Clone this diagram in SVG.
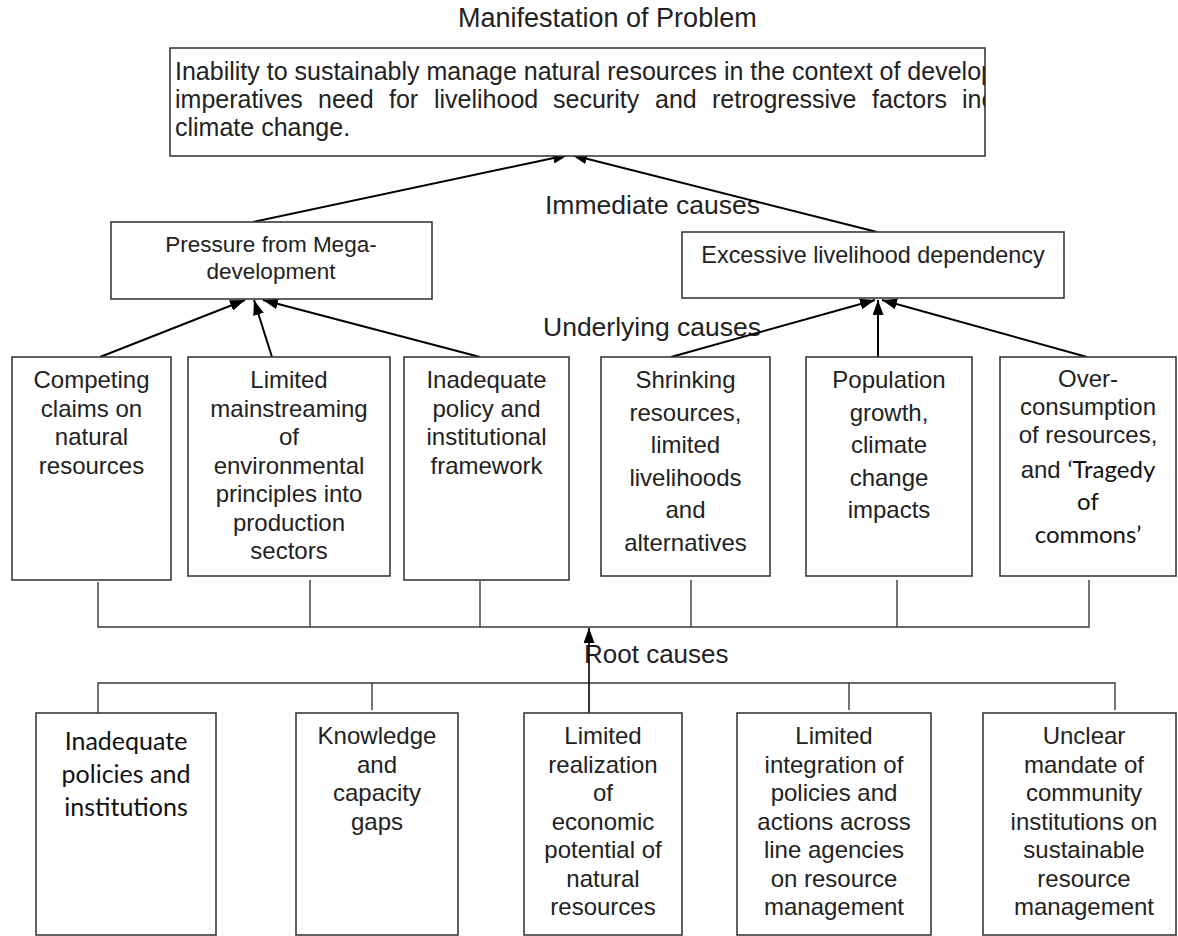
<svg xmlns="http://www.w3.org/2000/svg" width="1178" height="936" viewBox="0 0 1178 936">
<style>
  .bg{fill:#ffffff}
  .box{fill:#ffffff;stroke:#3a3a3a;stroke-width:1.6}
  .lbl{font-family:"Liberation Sans",Arial,sans-serif;font-size:26.5px;fill:#222}
  .t{font-family:"Liberation Sans",Arial,sans-serif;font-size:24px;fill:#222;text-anchor:middle}
  .tb{font-family:"Liberation Sans",Arial,sans-serif;font-size:25px;fill:#222}
  .c{font-family:Lato,"Open Sans",sans-serif;fill:#111}
  .arr{stroke:#000;stroke-width:2;fill:none;marker-end:url(#ah)}
  .bus{stroke:#3a3a3a;stroke-width:1.4;fill:none}
</style>
<defs>
  <marker id="ah" markerUnits="userSpaceOnUse" markerWidth="15" markerHeight="11" refX="15" refY="5.5" orient="auto">
    <path d="M0,0 L15,5.5 L0,11 z" fill="#000"/>
  </marker>
  <clipPath id="topclip"><rect x="170" y="48" width="815" height="108"/></clipPath>
</defs>
<rect class="bg" x="0" y="0" width="1178" height="936"/>

<g id="labels">
  <text class="lbl" x="458" y="27" style="font-size:27px">Manifestation of Problem</text>
  <text class="lbl" x="545" y="214">Immediate causes</text>
  <text class="lbl" x="543" y="336">Underlying causes</text>
  <text class="lbl" x="584" y="663" style="font-size:26px">Root causes</text>
</g>

<g id="connectors">
  <line class="arr" x1="253" y1="222" x2="568" y2="155"/>
  <line class="arr" x1="877" y1="232" x2="572" y2="155"/>
  <line class="arr" x1="100" y1="357" x2="245" y2="300"/>
  <line class="arr" x1="272" y1="357" x2="254" y2="300"/>
  <line class="arr" x1="480" y1="357" x2="263" y2="300"/>
  <line class="arr" x1="671" y1="357" x2="875" y2="300"/>
  <line class="arr" x1="878" y1="357" x2="878" y2="300"/>
  <line class="arr" x1="1087" y1="357" x2="882" y2="300"/>
  <path class="bus" d="M98,582 V627 H1089 V580 M310,580 V627 M480,581 V627 M691,580 V627 M897,580 V627"/>
  <path class="bus" d="M98,717 V683 H1115 V710 M372,683 V710 M849,683 V710"/>
  <line class="arr" x1="589" y1="713" x2="589" y2="628" style="stroke-width:1.6"/>
</g>

<g id="n-manifestation">
  <rect class="box" x="170" y="48" width="815" height="108"/>
  <g clip-path="url(#topclip)">
    <text class="tb" x="175" y="80">Inability to sustainably manage natural resources in the context of develop</text>
    <text class="tb" y="108"><tspan x="175">imperatives</tspan><tspan x="318">need</tspan><tspan x="389">for</tspan><tspan x="434">livelihood</tspan><tspan x="553">security</tspan><tspan x="655">and</tspan><tspan x="712">retrogressive</tspan><tspan x="872">factors</tspan><tspan x="962">inc</tspan></text>
    <text class="tb" x="175" y="136">climate change.</text>
  </g>
</g>

<g id="n-pressure">
  <rect class="box" x="111" y="222" width="321" height="77"/>
  <text class="t" x="271" y="252" style="font-size:22.5px">Pressure from Mega-</text>
  <text class="t" x="271" y="279" style="font-size:22.5px">development</text>
</g>

<g id="n-excessive">
  <rect class="box" x="682" y="232" width="382" height="66"/>
  <text class="t" x="873" y="263" style="font-size:23.4px">Excessive livelihood dependency</text>
</g>

<g id="n-competing">
  <rect class="box" x="12" y="357" width="159" height="223"/>
  <text class="t" x="91.5" y="388">Competing</text>
  <text class="t" x="91.5" y="416.5">claims on</text>
  <text class="t" x="91.5" y="445">natural</text>
  <text class="t" x="91.5" y="473.5">resources</text>
</g>

<g id="n-mainstreaming">
  <rect class="box" x="188" y="357" width="202" height="219"/>
  <text class="t" x="289" y="388">Limited</text>
  <text class="t" x="289" y="416.5">mainstreaming</text>
  <text class="t" x="289" y="445">of</text>
  <text class="t" x="289" y="473.5">environmental</text>
  <text class="t" x="289" y="502">principles into</text>
  <text class="t" x="289" y="530.5">production</text>
  <text class="t" x="289" y="559">sectors</text>
</g>

<g id="n-policy">
  <rect class="box" x="404" y="357" width="165" height="223"/>
  <text class="t" x="486.5" y="388">Inadequate</text>
  <text class="t" x="486.5" y="416.5">policy and</text>
  <text class="t" x="486.5" y="445">institutional</text>
  <text class="t" x="486.5" y="473.5">framework</text>
</g>

<g id="n-shrinking">
  <rect class="box" x="601" y="357" width="169" height="219"/>
  <text class="t" x="685.5" y="388">Shrinking</text>
  <text class="t" x="685.5" y="420.5">resources,</text>
  <text class="t" x="685.5" y="453">limited</text>
  <text class="t" x="685.5" y="485.5">livelihoods</text>
  <text class="t" x="685.5" y="518">and</text>
  <text class="t" x="685.5" y="550.5">alternatives</text>
</g>

<g id="n-population">
  <rect class="box" x="806" y="357" width="166" height="219"/>
  <text class="t" x="889" y="388">Population</text>
  <text class="t" x="889" y="420.5">growth,</text>
  <text class="t" x="889" y="453">climate</text>
  <text class="t" x="889" y="485.5">change</text>
  <text class="t" x="889" y="518">impacts</text>
</g>

<g id="n-overconsumption">
  <rect class="box" x="1000" y="357" width="176" height="219"/>
  <text class="t" x="1088" y="387">Over-</text>
  <text class="t" x="1088" y="415">consumption</text>
  <text class="t" x="1088" y="443">of resources,</text>
  <text class="t" x="1088" y="478">and <tspan class="c" style="font-size:24px">‘Tragedy</tspan></text>
  <text class="t c" x="1088" y="510" style="font-size:24px">of</text>
  <text class="t c" x="1088" y="543" style="font-size:24px">commons’</text>
</g>

<g id="n-inadequate-policies">
  <rect class="box" x="36" y="713" width="180" height="222"/>
  <text class="t c" x="126" y="750" style="font-size:25px">Inadequate</text>
  <text class="t c" x="126" y="783" style="font-size:25px">policies and</text>
  <text class="t c" x="126" y="816" style="font-size:25px">institutions</text>
</g>

<g id="n-knowledge">
  <rect class="box" x="296" y="713" width="162" height="222"/>
  <text class="t" x="377" y="744">Knowledge</text>
  <text class="t" x="377" y="772.5">and</text>
  <text class="t" x="377" y="801">capacity</text>
  <text class="t" x="377" y="829.5">gaps</text>
</g>

<g id="n-realization">
  <rect class="box" x="524" y="713" width="158" height="222"/>
  <text class="t" x="603" y="744">Limited</text>
  <text class="t" x="603" y="772.5">realization</text>
  <text class="t" x="603" y="801">of</text>
  <text class="t" x="603" y="829.5">economic</text>
  <text class="t" x="603" y="858">potential of</text>
  <text class="t" x="603" y="886.5">natural</text>
  <text class="t" x="603" y="915">resources</text>
</g>

<g id="n-integration">
  <rect class="box" x="737" y="713" width="194" height="222"/>
  <text class="t" x="834" y="744">Limited</text>
  <text class="t" x="834" y="772.5">integration of</text>
  <text class="t" x="834" y="801">policies and</text>
  <text class="t" x="834" y="829.5">actions across</text>
  <text class="t" x="834" y="858">line agencies</text>
  <text class="t" x="834" y="886.5">on resource</text>
  <text class="t" x="834" y="915">management</text>
</g>

<g id="n-mandate">
  <rect class="box" x="983" y="713" width="193" height="222"/>
  <text class="t" x="1084" y="744">Unclear</text>
  <text class="t" x="1084" y="772.5">mandate of</text>
  <text class="t" x="1084" y="801">community</text>
  <text class="t" x="1084" y="829.5">institutions on</text>
  <text class="t" x="1084" y="858">sustainable</text>
  <text class="t" x="1084" y="886.5">resource</text>
  <text class="t" x="1084" y="915">management</text>
</g>
</svg>
